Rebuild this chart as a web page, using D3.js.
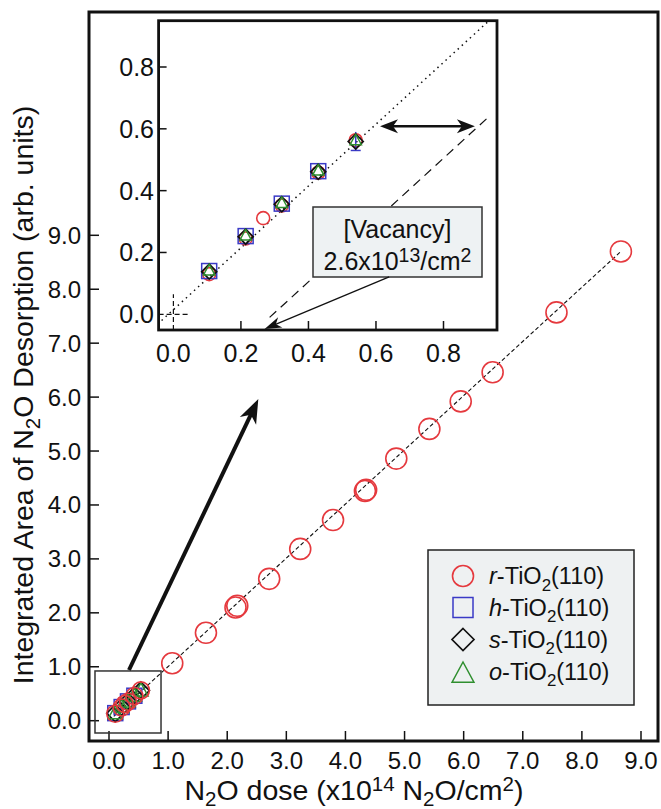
<!DOCTYPE html>
<html>
<head>
<meta charset="utf-8">
<script src="https://cdn.jsdelivr.net/npm/d3@7"></script>
<style>
  body { margin: 0; background: #fff; }
  text { font-family: "Liberation Sans", Arial, Helvetica, sans-serif; fill: #111; }
</style>
</head>
<body>
<svg id="chart" width="661" height="809"></svg>
<script>
// ---- data ----
const mainTicks  = [0, 1, 2, 3, 4, 5, 6, 7, 8, 9];
const insetTicks = [0.0, 0.2, 0.4, 0.6, 0.8];

// r-TiO2(110): full dose range (x10^14 N2O/cm^2)
const rDose = [0.106, 0.214, 0.266, 0.321, 0.429, 0.540, 1.07, 1.64, 2.14, 2.17, 2.71, 3.235, 3.79, 4.33, 4.35, 4.86, 5.42, 5.95, 6.49, 7.57, 8.66];
const rArea = [0.130, 0.245, 0.311, 0.352, 0.458, 0.563, 1.065, 1.63, 2.10, 2.13, 2.63, 3.185, 3.72, 4.26, 4.28, 4.86, 5.41, 5.92, 6.46, 7.57, 8.70];
// h-, s-, o-TiO2(110): low dose only
const hDose = [0.106, 0.214, 0.321, 0.429];
const hArea = [0.140, 0.253, 0.358, 0.463];
const sDose = [0.106, 0.214, 0.321, 0.429, 0.540];
const sArea = [0.138, 0.251, 0.356, 0.461, 0.559];
const oDose = [0.106, 0.214, 0.321, 0.429, 0.540];
const oArea = [0.142, 0.255, 0.360, 0.465, 0.563];
// error bar on last low-dose point
const errDose = [0.540];
const errLow  = [0.530];
const errHigh = [0.590];

const seriesNames = ["r-TiO", "h-TiO", "s-TiO", "o-TiO"];
const seriesItalic = ["r", "h", "s", "o"];

// fit lines
const mainFitDose = [0.0, 8.66];
const mainFitArea = [0.0, 8.70];
const insetFitDose = [-0.035, 0.935];
const insetFitArea = [-0.020, 0.950];
const shiftFitDose = [0.285, 0.940];
const shiftFitArea = [-0.010, 0.645];

const vacancyDose = 0.26; // x10^14 -> 2.6x10^13

// ---- colours ----
const RED = "#e5393e", BLUE = "#3a3ac6", GREEN = "#2f8f2f", BLACK = "#111";

const svg = d3.select("#chart");

// main plot frame (pixels)
const M = { left: 89, top: 12, right: 658, bottom: 741 };
const x = d3.scaleLinear().domain([0, 9]).range([109, 641]);
const y = d3.scaleLinear().domain([0, 9]).range([720.7, 235.3]);

// inset frame (pixels)
const I = { left: 158.6, top: 20.7, right: 497, bottom: 330 };
const xi = d3.scaleLinear().domain([0, 0.8]).range([173.4, 443.5]);
const yi = d3.scaleLinear().domain([0, 0.8]).range([314.3, 67]);

// text with sub/superscripts: parts = [[str, kind, italic]]
function rich(t, parts, fs, subShift = 0.3, scriptSize = 0.72, supShift = 0.38) {
  let shift = 0;
  parts.forEach(([str, kind, it]) => {
    const target = kind === "sub" ? fs * subShift : kind === "sup" ? -fs * supShift : 0;
    const ts = t.append("tspan").text(str).attr("dy", target - shift);
    shift = target;
    if (kind) ts.attr("font-size", fs * scriptSize);
    if (it) ts.attr("font-style", "italic");
  });
  return t;
}

function arrowHead(g, x1, y1, x2, y2, L, W, color) {
  const dx = x2 - x1, dy = y2 - y1, len = Math.hypot(dx, dy);
  const ux = dx / len, uy = dy / len, nx = -uy, ny = ux;
  const p = [
    [x2, y2],
    [x2 - L * ux + W * nx, y2 - L * uy + W * ny],
    [x2 - 0.72 * L * ux, y2 - 0.72 * L * uy],
    [x2 - L * ux - W * nx, y2 - L * uy - W * ny]
  ];
  g.append("path").attr("d", "M" + p.map(d => d.join(",")).join("L") + "Z").attr("fill", color);
}

// marker drawers
function circle(g, cx, cy, r) {
  g.append("circle").attr("cx", cx).attr("cy", cy).attr("r", r)
    .attr("fill", "none").attr("stroke", RED).attr("stroke-width", 1.6);
}
function square(g, cx, cy, h) {
  g.append("rect").attr("x", cx - h).attr("y", cy - h).attr("width", 2 * h).attr("height", 2 * h)
    .attr("fill", "none").attr("stroke", BLUE).attr("stroke-width", 1.5);
}
function diamond(g, cx, cy, h) {
  g.append("path").attr("d", `M${cx},${cy - h}L${cx + h},${cy}L${cx},${cy + h}L${cx - h},${cy}Z`)
    .attr("fill", "none").attr("stroke", BLACK).attr("stroke-width", 1.7);
}
function triangle(g, cx, cy, h) {
  g.append("path").attr("d", `M${cx},${cy - h}L${cx + h * 0.95},${cy + h * 0.75}L${cx - h * 0.95},${cy + h * 0.75}Z`)
    .attr("fill", "none").attr("stroke", GREEN).attr("stroke-width", 1.5);
}

// ================= main plot =================
const main = svg.append("g");

// ticks (inward)
main.selectAll(".xt").data(mainTicks).join("line")
  .attr("x1", d => x(d)).attr("x2", d => x(d)).attr("y1", M.bottom).attr("y2", M.bottom - 10)
  .attr("stroke", BLACK).attr("stroke-width", 1.5);
main.selectAll(".yt").data(mainTicks).join("line")
  .attr("x1", M.left).attr("x2", M.left + 10).attr("y1", d => y(d)).attr("y2", d => y(d))
  .attr("stroke", BLACK).attr("stroke-width", 1.5);

main.selectAll(".xl").data(mainTicks).join("text")
  .attr("x", d => x(d)).attr("y", 768.5).attr("text-anchor", "middle")
  .attr("font-size", 24).text(d => d.toFixed(1));
main.selectAll(".yl").data(mainTicks).join("text")
  .attr("x", 81).attr("y", d => y(d) + 8.5).attr("text-anchor", "end")
  .attr("font-size", 24).text(d => d.toFixed(1));

// frame
main.append("rect").attr("x", M.left).attr("y", M.top)
  .attr("width", M.right - M.left).attr("height", M.bottom - M.top)
  .attr("fill", "none").attr("stroke", BLACK).attr("stroke-width", 3);

// axis titles
rich(main.append("text").attr("x", 354).attr("y", 800).attr("text-anchor", "middle").attr("font-size", 28.5),
  [["N"], ["2", "sub"], ["O dose (x10"], ["14", "sup"], [" N"], ["2", "sub"], ["O/cm"], ["2", "sup"], [")"]], 28.5, 0.2, 0.72, 0.32);
rich(main.append("text").attr("transform", "translate(33,395) rotate(-90)").attr("text-anchor", "middle").attr("font-size", 28.5),
  [["Integrated Area of N"], ["2", "sub"], ["O Desorption (arb. units)"]], 28.5, 0.25);

// fit line
main.append("line")
  .attr("x1", x(mainFitDose[0])).attr("y1", y(mainFitArea[0]))
  .attr("x2", x(mainFitDose[1])).attr("y2", y(mainFitArea[1]))
  .attr("stroke", BLACK).attr("stroke-width", 1.1).attr("stroke-dasharray", "4,2.5");

// low-dose cluster in main plot
hDose.forEach((d, i) => square(main, x(d), y(hArea[i]), 7.5));
sDose.forEach((d, i) => diamond(main, x(d), y(sArea[i]), 8.5));
oDose.forEach((d, i) => triangle(main, x(d), y(oArea[i]), 7.5));
rDose.forEach((d, i) => circle(main, x(d), y(rArea[i]), d < 1 ? 8.5 : 10.5));

// zoom box
main.append("rect").attr("x", x(-0.237)).attr("y", y(0.922))
  .attr("width", x(0.88) - x(-0.237)).attr("height", y(-0.228) - y(0.922))
  .attr("fill", "none").attr("stroke", "#333").attr("stroke-width", 1.5);

// big arrow towards inset
{
  const x1 = x(0.338), y1 = y(0.94), x2 = x(2.526), y2 = y(5.963);
  const len = Math.hypot(x2 - x1, y2 - y1);
  const ux = (x2 - x1) / len, uy = (y2 - y1) / len;
  main.append("line").attr("x1", x1).attr("y1", y1)
    .attr("x2", x2 - ux * 14).attr("y2", y2 - uy * 14)
    .attr("stroke", BLACK).attr("stroke-width", 4);
  arrowHead(main, x1, y1, x2, y2, 24, 9, BLACK);
}

// legend
const leg = main.append("g");
leg.append("rect").attr("x", 428).attr("y", 550).attr("width", 206).attr("height", 155)
  .attr("fill", "#eef1f2").attr("stroke", "#222").attr("stroke-width", 1.5);
const legY = [576, 607.5, 639.5, 671.5];
const legDraw = [
  (cx, cy) => circle(leg, cx, cy, 10.5),
  (cx, cy) => square(leg, cx, cy, 10),
  (cx, cy) => diamond(leg, cx, cy, 11),
  (cx, cy) => triangle(leg, cx, cy + 2, 11.5)
];
seriesNames.forEach((n, i) => {
  legDraw[i](463, legY[i]);
  rich(leg.append("text").attr("x", 489).attr("y", legY[i] + 8).attr("font-size", 23.5),
    [[seriesItalic[i], null, true], ["-TiO"], ["2", "sub"], ["(110)"]], 23.5, 0.28);
});

// ================= inset =================
const ins = svg.append("g");
ins.append("rect").attr("x", I.left).attr("y", I.top)
  .attr("width", I.right - I.left).attr("height", I.bottom - I.top)
  .attr("fill", "#fff");

ins.selectAll(".xt").data(insetTicks.slice(1)).join("line")
  .attr("x1", d => xi(d)).attr("x2", d => xi(d)).attr("y1", I.bottom).attr("y2", I.bottom - 9)
  .attr("stroke", BLACK).attr("stroke-width", 1.5);
ins.selectAll(".yt").data(insetTicks.slice(1)).join("line")
  .attr("x1", I.left).attr("x2", I.left + 8).attr("y1", d => yi(d)).attr("y2", d => yi(d))
  .attr("stroke", BLACK).attr("stroke-width", 1.5);
// dashed zero marks
ins.append("line").attr("x1", xi(0)).attr("x2", xi(0)).attr("y1", I.bottom).attr("y2", yi(0.065))
  .attr("stroke", BLACK).attr("stroke-width", 1.2).attr("stroke-dasharray", "5,3");
ins.append("line").attr("x1", I.left).attr("x2", xi(0.05)).attr("y1", yi(0)).attr("y2", yi(0))
  .attr("stroke", BLACK).attr("stroke-width", 1.2).attr("stroke-dasharray", "5,3");

ins.selectAll(".xl").data(insetTicks).join("text")
  .attr("x", d => xi(d)).attr("y", 362).attr("text-anchor", "middle")
  .attr("font-size", 25).text(d => d.toFixed(1));
ins.selectAll(".yl").data(insetTicks).join("text")
  .attr("x", 154).attr("y", d => yi(d) + 9).attr("text-anchor", "end")
  .attr("font-size", 25).text(d => d.toFixed(1));

// fit lines
ins.append("line")
  .attr("x1", xi(insetFitDose[0])).attr("y1", yi(insetFitArea[0]))
  .attr("x2", xi(insetFitDose[1])).attr("y2", yi(insetFitArea[1]))
  .attr("stroke", BLACK).attr("stroke-width", 1.5).attr("stroke-dasharray", "1.5,4");
ins.append("line")
  .attr("x1", xi(shiftFitDose[0])).attr("y1", yi(shiftFitArea[0]))
  .attr("x2", xi(shiftFitDose[1])).attr("y2", yi(shiftFitArea[1]))
  .attr("stroke", BLACK).attr("stroke-width", 1.2).attr("stroke-dasharray", "9,6");

// markers
rDose.filter(d => d < 1).forEach((d, i) => circle(ins, xi(d), yi(rArea[i]), 6.5));
hDose.forEach((d, i) => square(ins, xi(d), yi(hArea[i]), 7.5));
errDose.forEach((d, i) => {
  ins.append("line").attr("x1", xi(d)).attr("x2", xi(d)).attr("y1", yi(errLow[i])).attr("y2", yi(errHigh[i]))
    .attr("stroke", BLUE).attr("stroke-width", 1.5);
  ins.append("line").attr("x1", xi(d) - 5).attr("x2", xi(d) + 5).attr("y1", yi(errLow[i])).attr("y2", yi(errLow[i]))
    .attr("stroke", BLUE).attr("stroke-width", 1.5);
});
sDose.forEach((d, i) => diamond(ins, xi(d), yi(sArea[i]), 7.5));
oDose.forEach((d, i) => triangle(ins, xi(d), yi(oArea[i]), 6));

// double arrow
{
  const ya = yi(0.608), xa = xi(0.612), xb = xi(0.893);
  ins.append("line").attr("x1", xa + 10).attr("x2", xb - 10).attr("y1", ya).attr("y2", ya)
    .attr("stroke", BLACK).attr("stroke-width", 2.5);
  arrowHead(ins, xb, ya, xa, ya, 18, 7, BLACK);
  arrowHead(ins, xa, ya, xb, ya, 18, 7, BLACK);
}

// vacancy label box
ins.append("rect").attr("x", 313).attr("y", 207).attr("width", 169).attr("height", 70)
  .attr("fill", "#eef2f3").attr("stroke", "#333").attr("stroke-width", 1.5);
ins.append("text").attr("x", 397.5).attr("y", 238).attr("text-anchor", "middle")
  .attr("font-size", 25).text("[Vacancy]");
rich(ins.append("text").attr("x", 397.5).attr("y", 270).attr("text-anchor", "middle").attr("font-size", 25),
  [["2.6x10"], ["13", "sup"], ["/cm"], ["2", "sup"]], 25, 0.3, 0.78, 0.33);

// arrow from box to vacancy dose on x axis
{
  const x1 = xi(0.639), y1 = yi(0.121), x2 = xi(vacancyDose + 0.01), y2 = I.bottom - 1;
  const len = Math.hypot(x2 - x1, y2 - y1);
  const ux = (x2 - x1) / len, uy = (y2 - y1) / len;
  ins.append("line").attr("x1", x1).attr("y1", y1).attr("x2", x2 - ux * 10).attr("y2", y2 - uy * 10)
    .attr("stroke", BLACK).attr("stroke-width", 1.3);
  arrowHead(ins, x1, y1, x2, y2, 17, 5.5, BLACK);
}

// inset frame on top
ins.append("rect").attr("x", I.left).attr("y", I.top)
  .attr("width", I.right - I.left).attr("height", I.bottom - I.top)
  .attr("fill", "none").attr("stroke", BLACK).attr("stroke-width", 2.8);
</script>
</body>
</html>
